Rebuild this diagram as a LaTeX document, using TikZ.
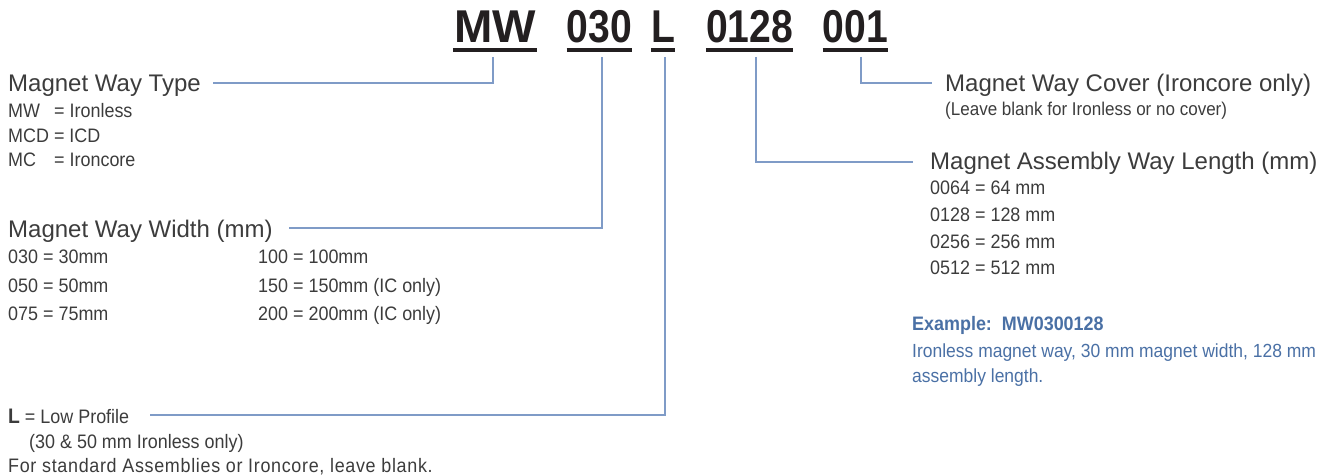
\documentclass[tikz,border=0pt]{standalone}
\usepackage{fontspec}
\setmainfont{Liberation Sans}[FakeStretch=0.92]
\newfontfamily\headfont{Liberation Sans}
\newfontfamily\codefont{Liberation Sans}[FakeStretch=0.85]
\usetikzlibrary{calc}
\definecolor{linkblue}{RGB}{127,155,199}
\definecolor{noteblue}{RGB}{74,112,165}
\definecolor{inkgray}{RGB}{60,60,60}
\definecolor{codeink}{RGB}{35,31,32}

\begin{document}
\begin{tikzpicture}[x=1pt, y=-1pt,
    part/.style={anchor=base, inner sep=0pt, text=codeink,
        font=\codefont\bfseries\fontsize{46}{46}\selectfont},
    head/.style={anchor=base west, inner sep=0pt, text=inkgray,
        font=\headfont\fontsize{24}{28}\selectfont},
    item/.style={anchor=base west, inner sep=0pt, text=inkgray,
        font=\fontsize{19.5}{24}\selectfont},
    link/.style={draw=linkblue, line width=1.3pt},
    uline/.style={draw=codeink, line width=4pt}]
    \useasboundingbox (0,0) rectangle (1328,476);

    % part number
    \node[part, minimum width=84pt] (pMW) at (495,43) {\headfont\bfseries MW};
    \node[part, minimum width=63pt] (p030) at (599.5,43) {030};
    \node[part, minimum width=20pt] (pL) at (663,43) {L};
    \node[part, minimum width=85pt] (p0128) at (749.5,43) {0128};
    \node[part, minimum width=65pt] (p001) at (855.5,43) {001};

    \foreach \p in {pMW,p030,pL,p0128,p001}
        \draw[uline] ($(\p.base west)+(0,7.5)$) -- ($(\p.base east)+(0,7.5)$);

    \coordinate (tMW) at (493,57);
    \coordinate (t030) at (602,57);
    \coordinate (tL) at (665,57);
    \coordinate (t0128) at (756,57);
    \coordinate (t001) at (861,57);

    % headings
    \node[head] (typeHead) at (8,92) {Magnet Way Type};
    \node[head] (widthHead) at (8,237) {Magnet Way Width (mm)};
    \node[item] (lowHead) at (8,423) {{\fontsize{21}{24}\selectfont\textbf{L}} = Low Profile};
    \node[head] (coverHead) at (945,92) {Magnet Way Cover (Ironcore only)};
    \node[head] (lengthHead) at (930,170) {Magnet Assembly Way Length (mm)};

    \draw[link] (tMW) |- ($(typeHead.base east)+(12,-9)$);
    \draw[link] (t030) |- ($(widthHead.base east)+(16,-9)$);
    \draw[link] (tL) |- ($(lowHead.base east)+(21,-8)$);
    \draw[link] (t0128) |- ($(lengthHead.base west)+(-17,-8)$);
    \draw[link] (t001) |- ($(coverHead.base west)+(-13,-9)$);

    % lists
    \foreach \t [count=\i] in {{\makebox[46pt][l]{MW}= Ironless}, {MCD = ICD},
                               {\makebox[46pt][l]{MC}= Ironcore}}
        \node[item] (type\i) at (8,{93.5+24.5*\i}) {\t};

    \foreach \a/\b [count=\i] in {030 = 30mm/100 = 100mm,
                                  050 = 50mm/150 = 150mm (IC only),
                                  075 = 75mm/200 = 200mm (IC only)} {
        \node[item] (wa\i) at (8,{235+28.5*\i}) {\a};
        \node[item] (wb\i) at (258,{235+28.5*\i}) {\b};
    }

    \node[item] (lowNote) at (29,448) {(30 \& 50 mm Ironless only)};
    \node[item] (lowBlank) at (8,472)
        {\addfontfeatures{LetterSpace=3.5}For standard Assemblies or Ironcore, leave blank.};

    \node[item, font=\fontsize{18.5}{22}\selectfont] (coverNote) at (945,116)
        {(Leave blank for Ironless or no cover)};

    \foreach \t [count=\i] in {0064 = 64 mm, 0128 = 128 mm, 0256 = 256 mm, 0512 = 512 mm}
        \node[item] (len\i) at (930,{168+26.7*\i}) {\t};

    % example
    \node[item, text=noteblue] (exHead) at (912,330) {\textbf{Example:\ \ MW0300128}};
    \node[item, text=noteblue, font=\fontsize{19}{24}\selectfont] (exLine1) at (912,357)
        {Ironless magnet way, 30 mm magnet width, 128 mm};
    \node[item, text=noteblue, font=\fontsize{19}{24}\selectfont] (exLine2) at (912,382)
        {assembly length.};
\end{tikzpicture}
\end{document}
